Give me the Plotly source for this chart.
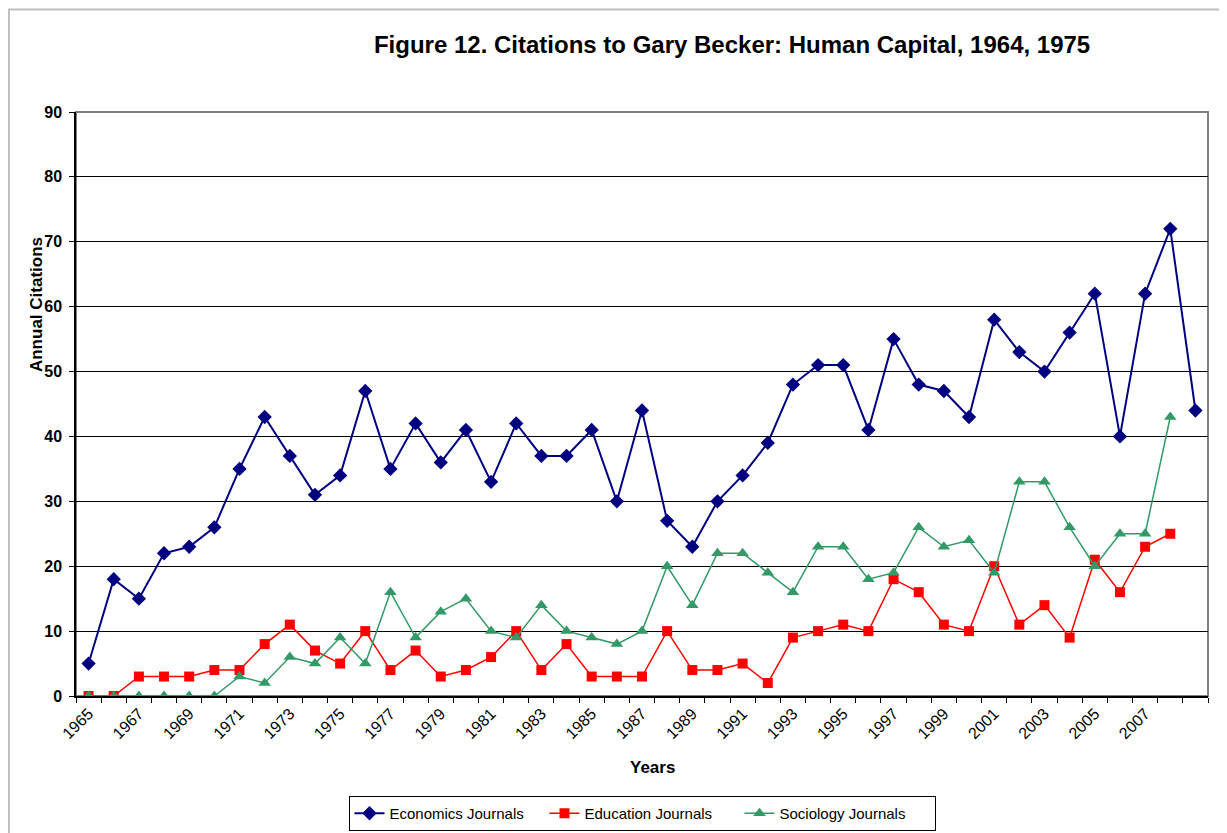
import plotly.graph_objects as go

years = list(range(1965, 2010))
economics = [5, 18, 15, 22, 23, 26, 35, 43, 37, 31, 34, 47, 35, 42, 36, 41, 33, 42, 37, 37,
             41, 30, 44, 27, 23, 30, 34, 39, 48, 51, 51, 41, 55, 48, 47, 43, 58, 53, 50, 56,
             62, 40, 62, 72, 44]
education = [0, 0, 3, 3, 3, 4, 4, 8, 11, 7, 5, 10, 4, 7, 3, 4, 6, 10, 4, 8,
             3, 3, 3, 10, 4, 4, 5, 2, 9, 10, 11, 10, 18, 16, 11, 10, 20, 11, 14, 9,
             21, 16, 23, 25]
sociology = [0, 0, 0, 0, 0, 0, 3, 2, 6, 5, 9, 5, 16, 9, 13, 15, 10, 9, 14, 10,
             9, 8, 10, 20, 14, 22, 22, 19, 16, 23, 23, 18, 19, 26, 23, 24, 19, 33, 33, 26,
             20, 25, 25, 43]
tick_years = list(range(1965, 2008, 2))

font = "Liberation Sans, Arial, sans-serif"

fig = go.Figure()
fig.add_trace(go.Scatter(
    x=years, y=economics, name="Economics Journals", mode="lines+markers",
    line=dict(color="#000080", width=2),
    marker=dict(symbol="diamond", size=11, color="#000080"),
))
fig.add_trace(go.Scatter(
    x=years[:len(education)], y=education, name="Education Journals", mode="lines+markers",
    line=dict(color="#FF0000", width=1.5),
    marker=dict(symbol="square", size=10, color="#FF0000"),
))
fig.add_trace(go.Scatter(
    x=years[:len(sociology)], y=sociology, name="Sociology Journals", mode="lines+markers",
    line=dict(color="#339966", width=1.5),
    marker=dict(symbol="triangle-up", size=11, color="#339966"),
))

# plot area frame (grey top/right) and outer chart border
fig.add_shape(type="rect", xref="paper", yref="paper", x0=0, x1=1, y0=0, y1=1,
              line=dict(color="#808080", width=2), layer="below")
fig.add_shape(type="rect", xref="paper", yref="paper",
              x0=-0.0592, x1=1.0141, y0=-0.26, y1=1.1755,
              line=dict(color="#C0C0C0", width=2), layer="below")

# axis titles placed where the original chart has them
fig.add_annotation(text="<b>Annual Citations</b>", xref="paper", yref="paper",
                   x=-0.0353, y=0.6695, xanchor="center", yanchor="middle",
                   textangle=-90, showarrow=False,
                   font=dict(size=17, family=font, color="black"))
fig.add_annotation(text="<b>Years</b>", xref="paper", yref="paper",
                   x=0.5097, y=-0.1216, xanchor="center", yanchor="middle",
                   showarrow=False, font=dict(size=17, family=font, color="black"))

fig.update_layout(
    width=1219, height=825,
    margin=dict(l=68, r=19, t=104, b=137, autoexpand=False),
    paper_bgcolor="white", plot_bgcolor="white",
    font=dict(family=font, color="black"),
    title=dict(text="<b>Figure 12. Citations to Gary Becker: Human Capital, 1964, 1975</b>",
               x=0.594, xanchor="center", y=0.956, yanchor="middle",
               font=dict(size=24, family=font, color="black")),
    xaxis=dict(
        range=[1964.5, 2009.5], tickmode="array", tickvals=tick_years,
        ticktext=[str(y) for y in tick_years], tickangle=-45, ticks="",
        tickfont=dict(size=16), showgrid=False, zeroline=False, automargin=False,
        showline=True, linecolor="black", linewidth=2,
        minor=dict(tick0=1964.5, dtick=1, ticks="outside", ticklen=5,
                   tickcolor="black", showgrid=False),
    ),
    yaxis=dict(
        range=[0, 90], dtick=10, ticks="outside", ticklen=5, tickcolor="black",
        tickfont=dict(size=16, family=font), showgrid=True, gridcolor="black",
        gridwidth=1, zeroline=False, showline=True, linecolor="black", linewidth=1.5,
        automargin=False, ticklabelstandoff=4,
        tickprefix="<b>", ticksuffix="</b>",
    ),
    legend=dict(orientation="h", x=0.5, xanchor="center", y=-0.2312, yanchor="bottom",
                bordercolor="black", borderwidth=1, font=dict(size=15),
                entrywidth=150, entrywidthmode="pixels", tracegroupgap=0),
    showlegend=True,
)

fig.write_html("out.html")
